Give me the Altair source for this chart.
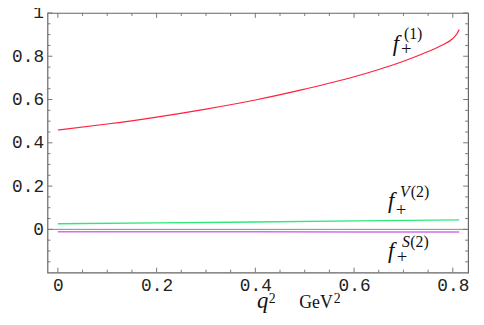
import altair as alt
import pandas as pd

# data
q2_red = [0, 0.1, 0.2, 0.3, 0.4, 0.5, 0.6, 0.65, 0.7, 0.75, 0.78, 0.8, 0.808, 0.813]
f1 = [0.459, 0.487, 0.519, 0.556, 0.598, 0.648, 0.705, 0.739, 0.777, 0.822, 0.853, 0.882, 0.903, 0.923]
q2_small = [0, 0.2, 0.4, 0.6, 0.813]
fV2 = [0.026, 0.030, 0.034, 0.039, 0.044]
fS2 = [-0.011, -0.011, -0.011, -0.012, -0.012]

x_major = [0, 0.2, 0.4, 0.6, 0.8]
x_minor = [0.05, 0.1, 0.15, 0.25, 0.3, 0.35, 0.45, 0.5, 0.55, 0.65, 0.7, 0.75]
y_major = [0, 0.2, 0.4, 0.6, 0.8, 1.0]
y_minor = [-0.15, -0.1, -0.05, 0.05, 0.1, 0.15, 0.25, 0.3, 0.35, 0.45, 0.5, 0.55,
           0.65, 0.7, 0.75, 0.85, 0.9, 0.95]

W, H = 426, 263
xs = alt.Scale(domain=[-0.021, 0.831], nice=False, zero=False)
ys = alt.Scale(domain=[-0.2, 1.0], nice=False, zero=False)

df_red = pd.DataFrame({"q2": q2_red, "f": f1})
df_g = pd.DataFrame({"q2": q2_small, "f": fV2})
df_p = pd.DataFrame({"q2": q2_small, "f": fS2})

mono = "Liberation Mono"
base_x = alt.X("q2:Q", scale=xs,
               axis=alt.Axis(values=x_major, ticks=False, domain=False, grid=False,
                             title=None, labelFont=mono, labelFontSize=18,
                             labelColor="#222", labelPadding=4,
                             labelExpr="datum.value == 0 ? '0' : format(datum.value, '.1f')"))
base_y = alt.Y("f:Q", scale=ys,
               axis=alt.Axis(values=y_major, ticks=False, domain=False, grid=False,
                             title=None, labelFont=mono, labelFontSize=18,
                             labelColor="#222", labelPadding=4,
                             labelExpr="datum.value == 0 ? '0' : datum.value == 1 ? '1' : format(datum.value, '.1f')"))

red = alt.Chart(df_red).mark_line(color="#ff2040", strokeWidth=1.2, interpolate="monotone").encode(x=base_x, y=base_y)
green = alt.Chart(df_g).mark_line(color="#2ee87a", strokeWidth=1.3).encode(
    x=alt.X("q2:Q", scale=xs), y=alt.Y("f:Q", scale=ys))
purple = alt.Chart(df_p).mark_line(color="#d070e8", strokeWidth=1.5).encode(
    x=alt.X("q2:Q", scale=xs), y=alt.Y("f:Q", scale=ys))
zero = alt.Chart(pd.DataFrame({"f": [0]})).mark_rule(color="#888888", strokeWidth=1).encode(
    y=alt.Y("f:Q", scale=ys), x=alt.value(0), x2=alt.value(W))

def ticks_x(vals, length):
    d = pd.DataFrame({"q2": vals})
    b = alt.Chart(d).mark_rule(color="#777777", strokeWidth=1).encode(
        x=alt.X("q2:Q", scale=xs), y=alt.value(H), y2=alt.value(H - length))
    t = alt.Chart(d).mark_rule(color="#777777", strokeWidth=1).encode(
        x=alt.X("q2:Q", scale=xs), y=alt.value(0), y2=alt.value(length))
    return b + t

def ticks_y(vals, length):
    d = pd.DataFrame({"f": vals})
    l = alt.Chart(d).mark_rule(color="#777777", strokeWidth=1).encode(
        y=alt.Y("f:Q", scale=ys), x=alt.value(0), x2=alt.value(length))
    r = alt.Chart(d).mark_rule(color="#777777", strokeWidth=1).encode(
        y=alt.Y("f:Q", scale=ys), x=alt.value(W), x2=alt.value(W - length))
    return l + r

ticks = ticks_x(x_major, 5) + ticks_x(x_minor, 3) + ticks_y(y_major, 5) + ticks_y(y_minor, 3)

# curve labels (data coords)
serif = "Liberation Serif"
lab_f = pd.DataFrame({"q2": [0.685, 0.675, 0.675], "f": [0.826, 0.100, -0.132], "t": ["f", "f", "f"]})
lab_plus = pd.DataFrame({"q2": [0.706, 0.695, 0.697], "f": [0.832, 0.087, -0.126], "t": ["+", "+", "+"]})
lab_sup_it = pd.DataFrame({"q2": [0.693, 0.697], "f": [0.151, -0.080], "t": ["V", "S"]})
lab_sup = pd.DataFrame({"q2": [0.701, 0.715, 0.714], "f": [0.880, 0.151, -0.080], "t": ["(1)", "(2)", "(2)"]})

tf = alt.Chart(lab_f).mark_text(font=serif, fontStyle="italic", fontSize=23, align="center",
                                baseline="alphabetic", color="#111").encode(
    x=alt.X("q2:Q", scale=xs), y=alt.Y("f:Q", scale=ys), text="t:N")
tp = alt.Chart(lab_plus).mark_text(font=serif, fontSize=19, align="center",
                                   baseline="middle", color="#111").encode(
    x=alt.X("q2:Q", scale=xs), y=alt.Y("f:Q", scale=ys), text="t:N")
tsi = alt.Chart(lab_sup_it).mark_text(font=serif, fontStyle="italic", fontSize=16, align="left",
                                      baseline="alphabetic", color="#111").encode(
    x=alt.X("q2:Q", scale=xs), y=alt.Y("f:Q", scale=ys), text="t:N")
ts = alt.Chart(lab_sup).mark_text(font=serif, fontSize=16, align="left",
                                  baseline="alphabetic", color="#111").encode(
    x=alt.X("q2:Q", scale=xs), y=alt.Y("f:Q", scale=ys), text="t:N")

# axis title pieces
title_df = pd.DataFrame({"q2": [0.415, 0.427, 0.489, 0.559],
                         "t": ["q", "2", "GeV", "2"]})
tq = alt.Chart(title_df.iloc[[0]]).mark_text(font=serif, fontStyle="italic", fontSize=23, align="center",
                                             baseline="alphabetic", color="#111").encode(
    x=alt.X("q2:Q", scale=xs), y=alt.value(H + 36), text="t:N")
tq2 = alt.Chart(title_df.iloc[[1, 3]]).mark_text(font=serif, fontSize=14, align="left",
                                                 baseline="alphabetic", color="#111").encode(
    x=alt.X("q2:Q", scale=xs), y=alt.value(H + 31), text="t:N")
tg = alt.Chart(title_df.iloc[[2]]).mark_text(font=serif, fontSize=18, align="left",
                                             baseline="alphabetic", color="#111").encode(
    x=alt.X("q2:Q", scale=xs), y=alt.value(H + 36), text="t:N")

chart = alt.layer(red, green, purple, zero, ticks, tf, tp, tsi, ts, tq, tq2, tg).properties(
    width=W, height=H,
    autosize=alt.AutoSizeParams(type="none"),
    padding={"left": 40, "top": 3, "right": 8, "bottom": 51},
).configure_view(stroke="#666666", strokeWidth=1.2)

chart.save("out.html", embed_options={"renderer": "svg", "actions": False})
